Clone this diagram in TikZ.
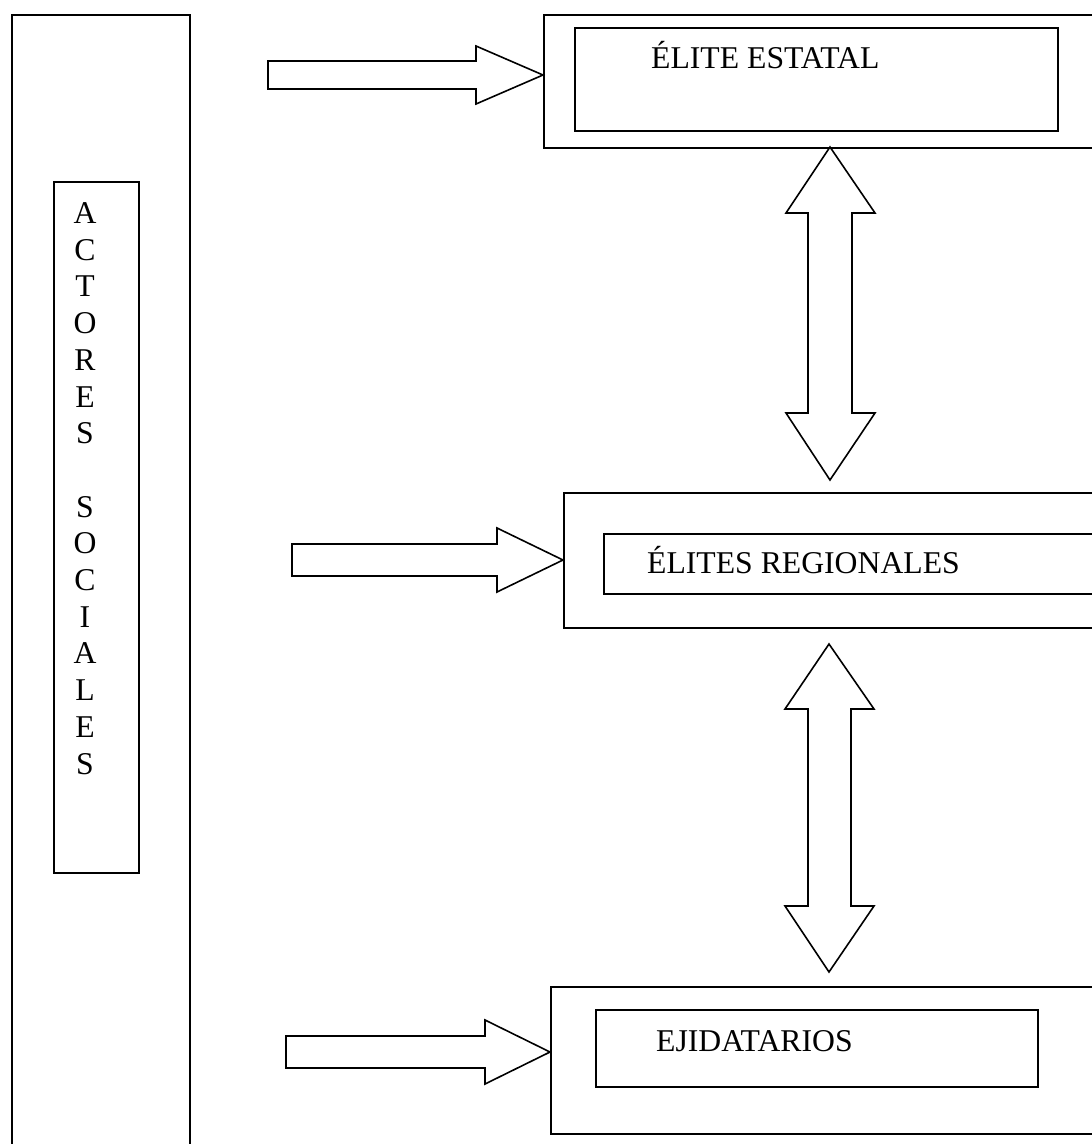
\documentclass[tikz,border=0pt]{standalone}
\usepackage{fontspec}
\setmainfont{Liberation Serif}
\usetikzlibrary{positioning}
\tikzset{
	caja/.style={
		rectangle,
		draw=black,
		line width=1.6pt,
		inner sep=0pt,
		anchor=north west,
	},
	flecha/.style={
		draw=black,
		line width=1.6pt,
		fill=white,
		line join=miter,
	},
	rotulo/.style={
		anchor=base west,
		inner sep=0pt,
	},
}

\begin{document}
\begin{tikzpicture}[x=1pt,y=-1pt,font=\fontsize{31.7}{36.7}\selectfont]
		\useasboundingbox (0,0) rectangle (1092,1144);
		\clip (0,0) rectangle (1092,1144);
		
		% columna de la izquierda
		\node [caja, minimum width=178pt, minimum height=1160pt] (act) at (11,14) {};
		\node [caja, minimum width=85pt, minimum height=691pt] (actin) at (53,181) {};
		\node [align=center, inner sep=0pt] (letras) at (85,488.5) {A\\C\\T\\O\\R\\E\\S\\ \\S\\O\\C\\I\\A\\L\\E\\S};
		
		% cajas
		\node [caja, minimum width=560pt, minimum height=133pt] (estatal) at (543,14) {};
		\node [caja, minimum width=483pt, minimum height=103pt] (estatalin) at (574,27) {};
		\node [rotulo] (testatal) at (651,68) {ÉLITE ESTATAL};
		
		\node [caja, minimum width=540pt, minimum height=135pt] (regional) at (563,492) {};
		\node [caja, minimum width=500pt, minimum height=60pt] (regionalin) at (603,533) {};
		\node [rotulo] (tregional) at (647,573) {ÉLITES REGIONALES};
		
		\node [caja, minimum width=560pt, minimum height=147pt] (ejido) at (550,986) {};
		\node [caja, minimum width=442pt, minimum height=77pt] (ejidoin) at (595,1009) {};
		\node [rotulo] (tejido) at (656,1051) {EJIDATARIOS};
		
		% flechas horizontales
		\coordinate (f1) at (543,75);
		\coordinate (f2) at (563,560);
		\coordinate (f3) at (550,1052);
		\draw [flecha] (f1) -- ++(-67,-29) -- ++(0,15) -- ++(-208,0) -- ++(0,28) -- ++(208,0) -- ++(0,15) -- cycle;
		\draw [flecha] (f2) -- ++(-66,-32) -- ++(0,16) -- ++(-205,0) -- ++(0,32) -- ++(205,0) -- ++(0,16) -- cycle;
		\draw [flecha] (f3) -- ++(-65,-32) -- ++(0,16) -- ++(-199,0) -- ++(0,32) -- ++(199,0) -- ++(0,16) -- cycle;
		
		% flechas dobles
		\coordinate (d1) at (830,147);
		\coordinate (d2) at (829,644);
		\draw [flecha] (d1) -- ++(45,66) -- ++(-23,0) -- ++(0,200) -- ++(23,0) -- ++(-45,67) -- ++(-44,-67) -- ++(22,0) -- ++(0,-200) -- ++(-22,0) -- cycle;
		\draw [flecha] (d2) -- ++(45,65) -- ++(-23,0) -- ++(0,197) -- ++(23,0) -- ++(-45,66) -- ++(-44,-66) -- ++(23,0) -- ++(0,-197) -- ++(-23,0) -- cycle;
	\end{tikzpicture}
\end{document}
